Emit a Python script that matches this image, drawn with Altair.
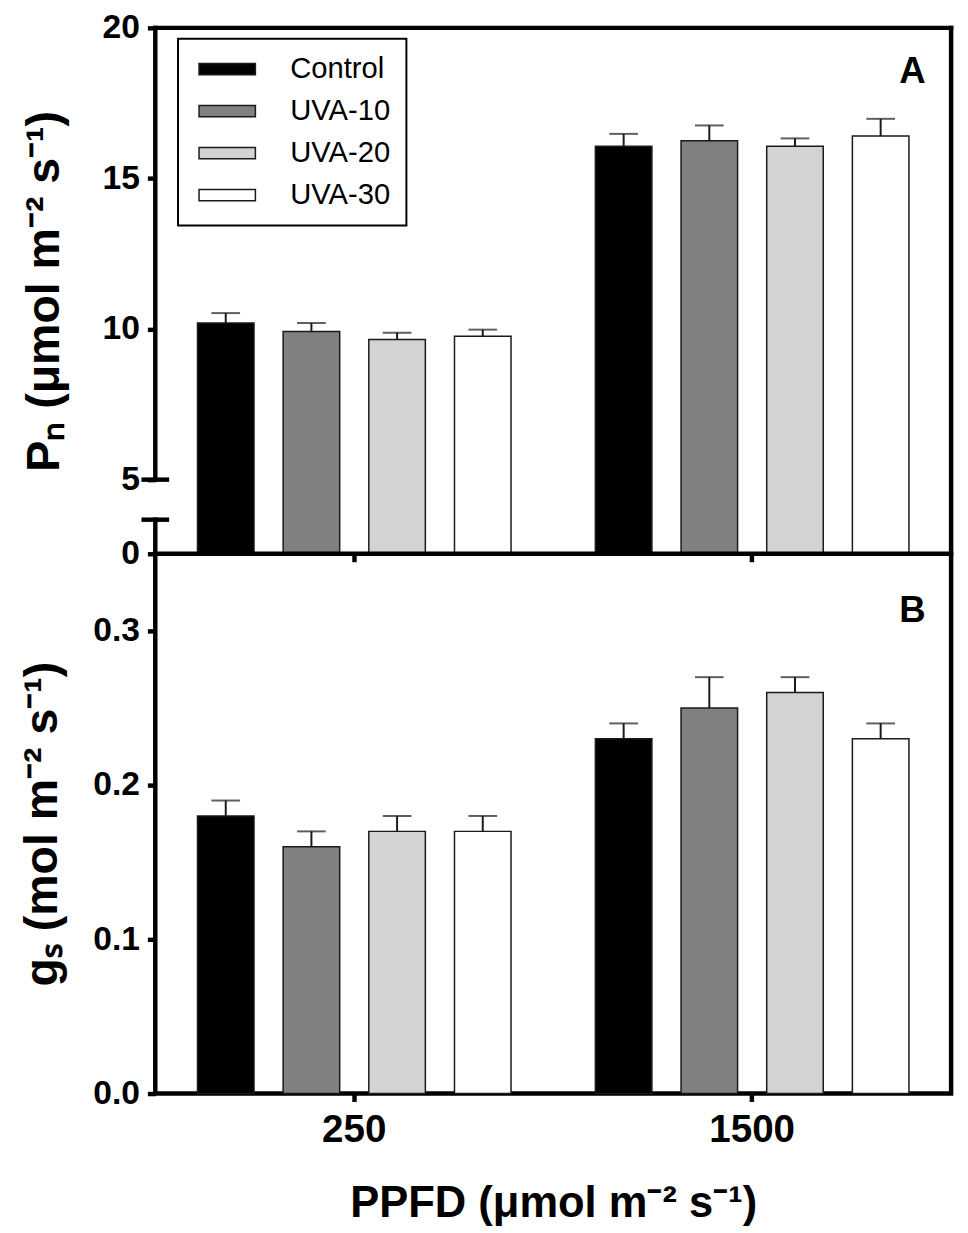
import altair as alt
import pandas as pd

groups = ["Control", "UVA-10", "UVA-20", "UVA-30"]
ppfd = ["250", "1500"]
fills = ["#000000", "#808080", "#d3d3d3", "#ffffff"]

# panel A, net photosynthesis (mean and upper error)
pn_250 = [10.20, 9.92, 9.65, 9.76]
pn_250_err = [0.33, 0.28, 0.23, 0.22]
pn_1500 = [16.07, 16.25, 16.07, 16.41]
pn_1500_err = [0.41, 0.51, 0.26, 0.57]

# panel B, stomatal conductance
gs_250 = [0.18, 0.16, 0.17, 0.17]
gs_250_err = [0.01, 0.01, 0.01, 0.01]
gs_1500 = [0.23, 0.25, 0.26, 0.23]
gs_1500_err = [0.01, 0.02, 0.01, 0.01]

W = 805
H_A = 532
H_B = 546
INK = "#1a1a1a"
FONT = "Liberation Sans"


def table(v250, e250, v1500, e1500):
    rows = []
    for p, vals, errs in ((ppfd[0], v250, e250), (ppfd[1], v1500, e1500)):
        for g, v, e in zip(groups, vals, errs):
            rows.append({"ppfd": p, "group": g, "value": v, "top": v + e})
    return pd.DataFrame(rows)


def panel(df, y_scale, y_axis, x_axis, legend, letter, tag_y):
    x = alt.X("ppfd:N", sort=ppfd, axis=x_axis,
              scale=alt.Scale(paddingInner=0.1, paddingOuter=0.05))
    xo = alt.XOffset("group:N", sort=groups,
                     scale=alt.Scale(paddingInner=0.34, paddingOuter=0.26))
    base = alt.Chart(df)
    bars = base.mark_bar(stroke=INK, strokeWidth=1.5).encode(
        x=x, xOffset=xo,
        y=alt.Y("value:Q", scale=y_scale, axis=y_axis),
        color=alt.Color("group:N", sort=groups,
                        scale=alt.Scale(domain=groups, range=fills),
                        legend=legend))
    stems = base.mark_rule(color=INK, strokeWidth=2).encode(
        x=x, xOffset=xo, y="value:Q", y2="top:Q")
    caps = base.mark_tick(color=INK, thickness=2, size=29).encode(
        x=x, xOffset=xo, y="top:Q")
    tag = alt.Chart(pd.DataFrame({"t": [letter]})).mark_text(
        font=FONT, fontSize=37, fontWeight="bold").encode(
        text="t:N", x=alt.value(766), y=alt.value(tag_y))
    return [bars, stems, caps, tag]


y_common = dict(domain=False, tickSize=8, tickWidth=4.5, labelFont=FONT,
                labelFontSize=34, labelFontWeight="bold", labelPadding=8,
                titleFont=FONT, titleFontSize=47, titleFontWeight="bold")

# ---- panel A, broken y axis ----
legend_a = alt.Legend(
    title=None, orient="none", legendX=23, legendY=11,
    symbolType="M-1,-0.6H5V0.6H-1Z", symbolSize=361,
    symbolStrokeColor=INK, symbolStrokeWidth=1.5, symbolOpacity=1,
    labelFont=FONT, labelFontSize=29.5, labelOffset=68, labelColor="black",
    rowPadding=11.5, padding=16, strokeColor="black", fillColor="white")

layers_a = panel(
    table(pn_250, pn_250_err, pn_1500, pn_1500_err),
    alt.Scale(domain=[0, 5, 20], range=[H_A, 457, 0], nice=False),
    alt.Axis(values=[0, 5, 10, 15, 20], title="Pₙ (μmol m⁻² s⁻¹)",
             titleX=-88, **y_common),
    alt.Axis(labels=False, title=None, domain=False, tickSize=8, tickWidth=4.5),
    legend_a, "A", 45)

one = pd.DataFrame({"k": [0]})
frame_top = alt.Chart(one).mark_rule(color="black", strokeWidth=4.5, strokeCap="square").encode(
    x=alt.value(0), x2=alt.value(W), y=alt.value(0))
frame_right = alt.Chart(one).mark_rule(color="black", strokeWidth=4.5, strokeCap="square").encode(
    x=alt.value(W), y=alt.value(0), y2=alt.value(H_A))
left_axis = alt.Chart(pd.DataFrame({"value": [20.0, 2.3], "top": [5.0, 0.0]})).mark_rule(
    color="black", strokeWidth=4.5, strokeCap="square").encode(
    x=alt.value(0), y="value:Q", y2="top:Q")
break_marks = alt.Chart(pd.DataFrame({"value": [5.0, 2.3]})).mark_rule(
    color="black", strokeWidth=4.5).encode(
    x=alt.value(-14), x2=alt.value(14), y="value:Q")

top = alt.layer(*layers_a, frame_top, frame_right, left_axis, break_marks).properties(
    width=W, height=H_A, view=alt.ViewBackground(stroke="transparent"))

# ---- panel B ----
layers_b = panel(
    table(gs_250, gs_250_err, gs_1500, gs_1500_err),
    alt.Scale(domain=[0, 0.35], nice=False),
    alt.Axis(values=[0, 0.1, 0.2, 0.3], format=".1f",
             title="gₛ (mol m⁻² s⁻¹)", titleX=-90, **y_common),
    alt.Axis(labelAngle=0, title="PPFD (μmol m⁻² s⁻¹)", domain=False,
             tickSize=8, tickWidth=4.5, labelFont=FONT, labelFontSize=39,
             labelFontWeight="bold", labelPadding=10, titleFont=FONT,
             titleFontSize=44, titleFontWeight="bold", titlePadding=32),
    None, "B", 58)

bottom = alt.layer(*layers_b).properties(
    width=W, height=H_B,
    view=alt.ViewBackground(stroke="black", strokeWidth=4.5))

chart = alt.vconcat(top, bottom, spacing=0, bounds="flush").resolve_legend(
    color="independent").properties(
    padding={"left": 8, "top": -5, "right": 5, "bottom": 0}).configure_axis(
    grid=False, labelColor="black", tickColor="black", titleColor="black"
).configure_legend(strokeWidth=2)

chart.save("out.html", embed_options={"renderer": "svg", "actions": False})
